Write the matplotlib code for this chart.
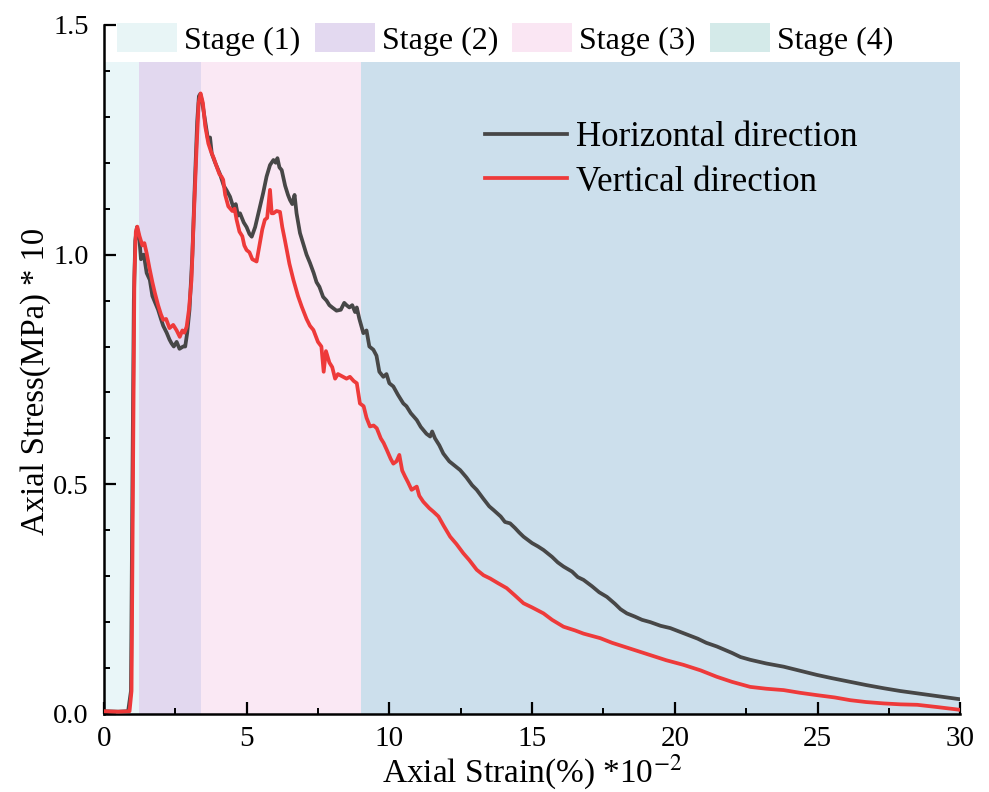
import matplotlib
matplotlib.use("Agg")
import matplotlib.pyplot as plt
from matplotlib.patches import Patch
from matplotlib.ticker import MultipleLocator, FormatStrFormatter

# ---------------- data ----------------
horiz_x = [0, 0.5, 0.85, 0.95, 1.0, 1.05, 1.1, 1.16, 1.25, 1.3, 1.4, 1.5, 1.61, 1.7, 1.8, 1.9,
           2.0, 2.08, 2.2, 2.3, 2.37, 2.45, 2.55, 2.65, 2.78, 2.85, 2.92, 3.0, 3.1, 3.19, 3.27,
           3.33, 3.38, 3.45, 3.55, 3.65, 3.72, 3.78, 3.9, 4.0, 4.07, 4.2, 4.3, 4.42, 4.55, 4.62,
           4.7, 4.77, 4.9, 5.0, 5.1, 5.18, 5.3, 5.45, 5.58, 5.7, 5.82, 5.94, 6.02, 6.08, 6.15,
           6.23, 6.35, 6.45, 6.52, 6.6, 6.68, 6.75, 6.87, 7.0, 7.1, 7.22, 7.35, 7.45, 7.55, 7.68,
           7.8, 7.9, 8.0, 8.15, 8.3, 8.42, 8.5, 8.6, 8.7, 8.8, 8.86, 8.95, 9.09, 9.2, 9.3, 9.44,
           9.55, 9.65, 9.79, 9.9, 10.0, 10.14, 10.3, 10.49, 10.6, 10.75, 10.96, 11.1, 11.3, 11.43,
           11.5, 11.6, 11.75, 11.89, 12.1, 12.3, 12.48, 12.7, 12.9, 13.06, 13.3, 13.5, 13.65,
           13.9, 14.05, 14.23, 14.4, 14.55, 14.7, 15.0, 15.2, 15.4, 15.7, 15.9, 16.1, 16.4, 16.6,
           16.8, 17.1, 17.35, 17.62, 17.9, 18.1, 18.32, 18.6, 18.85, 19.14, 19.5, 19.84, 20.3,
           20.8, 21.1, 21.47, 22.0, 22.3, 22.64, 23.2, 23.81, 24.4, 24.98, 25.5, 26.15, 26.7,
           27.32, 27.9, 28.49, 29.2, 30.0]
horiz_y = [0.006, 0.005, 0.006, 0.05, 0.5, 0.9, 1.03, 1.06, 1.03, 0.99, 1.0, 0.96, 0.945, 0.91,
           0.895, 0.88, 0.86, 0.845, 0.83, 0.815, 0.807, 0.80, 0.81, 0.795, 0.80, 0.80, 0.83,
           0.88, 1.0, 1.16, 1.29, 1.345, 1.35, 1.33, 1.29, 1.25, 1.255, 1.22, 1.20, 1.185, 1.175,
           1.15, 1.14, 1.126, 1.10, 1.11, 1.085, 1.09, 1.07, 1.06, 1.045, 1.039, 1.06, 1.10,
           1.134, 1.17, 1.195, 1.206, 1.20, 1.21, 1.19, 1.184, 1.15, 1.13, 1.119, 1.11, 1.13,
           1.09, 1.047, 1.02, 1.0, 0.982, 0.96, 0.94, 0.93, 0.908, 0.90, 0.89, 0.885, 0.878,
           0.88, 0.895, 0.89, 0.885, 0.89, 0.875, 0.885, 0.86, 0.829, 0.835, 0.80, 0.793, 0.78,
           0.745, 0.734, 0.74, 0.72, 0.713, 0.695, 0.676, 0.67, 0.655, 0.640, 0.625, 0.61, 0.604,
           0.615, 0.60, 0.585, 0.567, 0.55, 0.54, 0.531, 0.515, 0.498, 0.488, 0.468, 0.452,
           0.444, 0.43, 0.418, 0.415, 0.405, 0.395, 0.386, 0.372, 0.365, 0.357, 0.342, 0.33,
           0.321, 0.31, 0.298, 0.292, 0.278, 0.265, 0.255, 0.24, 0.228, 0.219, 0.212, 0.205,
           0.200, 0.192, 0.187, 0.176, 0.164, 0.155, 0.147, 0.133, 0.124, 0.118, 0.11, 0.103,
           0.094, 0.085, 0.078, 0.070, 0.063, 0.056, 0.050, 0.045, 0.039, 0.032]

vert_x = [0, 0.5, 0.9, 0.97, 1.02, 1.07, 1.12, 1.17, 1.25, 1.35, 1.42, 1.5, 1.6, 1.7, 1.79, 1.9,
          2.0, 2.08, 2.18, 2.3, 2.43, 2.55, 2.66, 2.75, 2.82, 2.9, 2.98, 3.07, 3.15, 3.25, 3.32,
          3.39, 3.47, 3.55, 3.66, 3.75, 3.85, 3.95, 4.05, 4.12, 4.18, 4.25, 4.36, 4.5, 4.58,
          4.65, 4.75, 4.85, 4.92, 5.0, 5.1, 5.2, 5.35, 5.45, 5.55, 5.64, 5.72, 5.82, 5.88, 5.94,
          6.05, 6.17, 6.25, 6.34, 6.5, 6.64, 6.8, 6.93, 7.1, 7.22, 7.34, 7.5, 7.62, 7.7, 7.78,
          7.9, 8.0, 8.1, 8.2, 8.35, 8.5, 8.62, 8.75, 8.86, 8.97, 9.1, 9.2, 9.32, 9.45, 9.56, 9.7,
          9.8, 9.91, 10.05, 10.14, 10.25, 10.35, 10.45, 10.55, 10.65, 10.78, 10.96, 11.05, 11.19,
          11.4, 11.55, 11.72, 11.9, 12.13, 12.35, 12.59, 12.8, 13.06, 13.3, 13.53, 13.8, 14.11,
          14.4, 14.7, 15.0, 15.4, 15.7, 16.1, 16.5, 16.8, 17.1, 17.39, 17.8, 18.2, 18.7, 19.14,
          19.7, 20.3, 20.9, 21.47, 22.0, 22.64, 23.2, 23.81, 24.4, 24.98, 25.6, 26.15, 26.7,
          27.32, 27.9, 28.49, 29.2, 30.0]
vert_y = [0.006, 0.005, 0.006, 0.05, 0.5, 0.95, 1.05, 1.061, 1.04, 1.02, 1.025, 1.003, 0.97,
          0.94, 0.916, 0.89, 0.87, 0.858, 0.86, 0.84, 0.847, 0.835, 0.821, 0.835, 0.83, 0.843,
          0.88, 0.945, 1.08, 1.235, 1.33, 1.351, 1.33, 1.28, 1.242, 1.225, 1.21, 1.192, 1.175,
          1.17, 1.163, 1.13, 1.105, 1.095, 1.10, 1.076, 1.05, 1.04, 1.02, 1.010, 1.005, 0.99,
          0.985, 1.02, 1.055, 1.076, 1.08, 1.141, 1.09, 1.090, 1.095, 1.093, 1.06, 1.032, 0.98,
          0.945, 0.91, 0.887, 0.86, 0.845, 0.836, 0.81, 0.80, 0.745, 0.79, 0.765, 0.755, 0.73,
          0.74, 0.735, 0.73, 0.734, 0.725, 0.72, 0.676, 0.67, 0.645, 0.626, 0.628, 0.622, 0.60,
          0.59, 0.575, 0.555, 0.545, 0.55, 0.564, 0.53, 0.517, 0.505, 0.488, 0.495, 0.475,
          0.462, 0.448, 0.44, 0.43, 0.41, 0.386, 0.37, 0.35, 0.335, 0.314, 0.302, 0.295, 0.285,
          0.274, 0.258, 0.241, 0.232, 0.219, 0.205, 0.190, 0.182, 0.175, 0.170, 0.165, 0.155,
          0.147, 0.137, 0.128, 0.117, 0.107, 0.095, 0.081, 0.07, 0.059, 0.055, 0.052, 0.046,
          0.041, 0.036, 0.030, 0.026, 0.023, 0.021, 0.020, 0.015, 0.009]

series_labels = ["Horizontal direction", "Vertical direction"]
stage_labels = ["Stage (1)", "Stage (2)", "Stage (3)", "Stage (4)"]
stage_bounds = [0, 1.23, 3.4, 9.0, 30.0]
stage_top = 1.42

x_label = "Axial Strain(%) *10$^{-2}$"
y_label = "Axial Stress(MPa) * 10"

# ---------------- style ----------------
span_colors = ["#E9F6F8", "#E2D8EF", "#FAE8F4", "#CCDFEC"]
patch_colors = ["#E8F5F6", "#E3D9F0", "#FAE6F3", "#D4EAE9"]
line_colors = ["#474747", "#EE3A3A"]

plt.rcParams["font.family"] = ["Liberation Serif", "DejaVu Serif"]
plt.rcParams["mathtext.fontset"] = "stix"

fig = plt.figure(figsize=(9.89, 7.92), dpi=100)
ax = fig.add_axes([0.105, 0.0985, 0.866, 0.870])

ymax_lim = 1.5
for i in range(4):
    ax.axvspan(stage_bounds[i], stage_bounds[i + 1], ymin=0, ymax=stage_top / ymax_lim,
               color=span_colors[i], lw=0, zorder=0)

l1, = ax.plot(horiz_x, horiz_y, color=line_colors[0], lw=2.7, zorder=3, label=series_labels[0])
l2, = ax.plot(vert_x, vert_y, color=line_colors[1], lw=2.7, zorder=4, label=series_labels[1])

ax.set_xlim(0, 30)
ax.set_ylim(0, ymax_lim)
ax.xaxis.set_major_locator(MultipleLocator(5))
ax.xaxis.set_minor_locator(MultipleLocator(2.5))
ax.yaxis.set_major_locator(MultipleLocator(0.5))
ax.yaxis.set_minor_locator(MultipleLocator(0.1))
ax.yaxis.set_major_formatter(FormatStrFormatter("%.1f"))

for s in ["top", "right"]:
    ax.spines[s].set_visible(False)
for s in ["left", "bottom"]:
    ax.spines[s].set_linewidth(1.8)

ax.tick_params(which="major", direction="in", length=8.5, width=1.6, labelsize=21)
ax.tick_params(which="minor", direction="in", length=4, width=1.4)
ax.tick_params(axis="x", which="major", pad=9)
ax.tick_params(axis="y", which="major", pad=11, labelsize=20.5)

ax.set_xlabel(x_label, fontsize=24, labelpad=0)
ax.set_ylabel(y_label, fontsize=23.5)
ax.yaxis.set_label_coords(-0.062, 0.482)

leg1 = ax.legend(handles=[l1, l2], loc="center left", bbox_to_anchor=(0.445, 0.804),
                 frameon=False, fontsize=25, handlelength=2.35, handletextpad=0.27,
                 labelspacing=0.32, borderpad=0, borderaxespad=0)
ax.add_artist(leg1)

stage_handles = [Patch(facecolor=patch_colors[i], edgecolor="none") for i in range(4)]
leg2 = ax.legend(handles=stage_handles, labels=stage_labels, loc="center left",
                 bbox_to_anchor=(0.0152, 0.979), ncol=4, frameon=False, fontsize=23,
                 handlelength=1.88, handleheight=1.03, handletextpad=0.22,
                 columnspacing=0.45, borderpad=0, borderaxespad=0)

fig.savefig("out.png", dpi=100)
